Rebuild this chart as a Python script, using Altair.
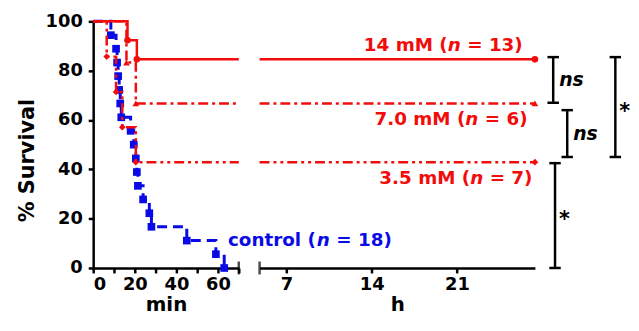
import altair as alt
import pandas as pd

# ---------------- data ----------------
# Kaplan-Meier step points: time (min) and % survival
ctrl_t = [0, 8.5, 11, 11.5, 12, 12.5, 13, 13.5, 18, 19.5, 20.5, 21, 21.5, 24, 27, 28, 45, 59, 63]
ctrl_s = [100, 94.4, 88.9, 83.3, 77.8, 72.2, 66.7, 61.1, 55.6, 50.0, 44.4, 38.9, 33.3, 27.8, 22.2, 16.7, 11.1, 5.6, 0]
mm14_t = [0, 16.5, 21]
mm14_s = [100, 92.3, 84.6]
mm70_t = [0, 16, 20.5]
mm70_s = [100, 83.3, 66.7]
mm35_t = [0, 6.5, 11, 14, 20.5]
mm35_s = [100, 85.7, 71.4, 57.1, 42.9]

min_domain = [0, 70]          # left segment, minutes
h_domain = [4.8, 27.4]        # right segment, hours
min_ticks = [0, 10, 20, 30, 40, 50, 60, 70]
h_ticks = [7, 14, 21]
y_ticks = [0, 20, 40, 60, 80, 100]

# group labels (right panel, hours / % survival)
lab_prefix = ["14 mM (", "7.0 mM (", "3.5 mM ("]
lab_suffix = ["= 13)", "= 6)", "= 7)"]
lab_x = [26.4, 26.8, 27.2]
lab_y = [90.4, 60.2, 36.5]
ctrl_prefix = "control ("
ctrl_suffix = "= 18)"
ctrl_lab_x = 64.8
ctrl_lab_y = 11.2

# significance brackets (hours, % survival)
br_x = [28.9, 30.05, 34.0, 29.05]
br_top = [85.5, 64.0, 85.5, 42.5]
br_bot = [67.0, 45.0, 45.0, 0.0]
br_text = ["ns", "ns", "*", "*"]
cap_half = 0.47

RED = "#f20c0c"
BLUE = "#0a0ae6"
FONT = "DejaVu Sans"
LFS = 18.5

# DejaVu Sans Bold advance widths (per 1000 em) for text offsets
W = {" ": 348, "(": 457, ")": 457, "=": 838, "n": 712, "m": 1042, "M": 995,
     "c": 593, "o": 687, "t": 478, "r": 493, "l": 343, ".": 380}
for d in "0123456789":
    W[d] = 696


def tw(s, fs=LFS):
    return sum(W.get(c, 600) for c in s) * fs / 1000.0


SP = tw(" ")

# ---------------- encodings ----------------
x_min = alt.X("t:Q", scale=alt.Scale(domain=min_domain, nice=False, zero=False),
              axis=alt.Axis(values=min_ticks, title="min",
                            labelExpr="datum.value % 20 == 0 && datum.value < 70 ? datum.label : ''"))
x_h = alt.X("t:Q", scale=alt.Scale(domain=h_domain, nice=False, zero=False),
            axis=alt.Axis(values=h_ticks, title="h"))
y_left = alt.Y("s:Q", scale=alt.Scale(domain=[0, 100], nice=False),
               axis=alt.Axis(values=y_ticks, title="% Survival", titlePadding=8, titleY=140,
                             titleFontSize=21, labelPadding=6))
y_right = alt.Y("s:Q", scale=alt.Scale(domain=[0, 100], nice=False), axis=None)


def curve_left(ts, ss, extend):
    tt = list(ts) + ([min_domain[1]] if extend else [])
    sv = list(ss) + ([ss[-1]] if extend else [])
    return pd.DataFrame({"t": tt, "s": sv})


def pts(ts, ss):
    return pd.DataFrame({"t": ts[1:], "s": ss[1:]})


DASH70 = [10, 4, 3, 4]
DASH35 = [10, 4, 3, 4, 3, 4]

left_layers = []
# control
left_layers.append(alt.Chart(curve_left(ctrl_t, ctrl_s, False)).mark_line(
    interpolate="step-after", color=BLUE, strokeWidth=3, strokeDash=[10, 6]).encode(x=x_min, y=y_left))
left_layers.append(alt.Chart(pts(ctrl_t, ctrl_s)).mark_point(
    shape="square", filled=True, opacity=1, color=BLUE, size=60).encode(x=x_min, y=y_left))
# 3.5 mM
left_layers.append(alt.Chart(curve_left(mm35_t, mm35_s, True)).mark_line(
    interpolate="step-after", color=RED, strokeWidth=2.5, strokeDash=DASH35).encode(x=x_min, y=y_left))
left_layers.append(alt.Chart(pts(mm35_t, mm35_s)).mark_point(
    shape="diamond", filled=True, opacity=1, color=RED, size=45).encode(x=x_min, y=y_left))
# 7.0 mM
left_layers.append(alt.Chart(curve_left(mm70_t, mm70_s, True)).mark_line(
    interpolate="step-after", color=RED, strokeWidth=2.5, strokeDash=DASH70).encode(x=x_min, y=y_left))
left_layers.append(alt.Chart(pts(mm70_t, mm70_s)).mark_point(
    shape="triangle-up", filled=True, opacity=1, color=RED, size=45).encode(x=x_min, y=y_left))
# 14 mM
left_layers.append(alt.Chart(curve_left(mm14_t, mm14_s, True)).mark_line(
    interpolate="step-after", color=RED, strokeWidth=2.5).encode(x=x_min, y=y_left))
left_layers.append(alt.Chart(pts(mm14_t, mm14_s)).mark_point(
    shape="circle", filled=True, opacity=1, color=RED, size=45).encode(x=x_min, y=y_left))
# axis break mark
left_layers.append(alt.Chart(pd.DataFrame({"t": [min_domain[1]], "s": [0]})).mark_tick(
    orient="vertical", size=13, thickness=2.5, color="black").encode(x=x_min, y=y_left))
# control label (n italic)
cdf = pd.DataFrame({"t": [ctrl_lab_x], "s": [ctrl_lab_y]})
txt_common = dict(font=FONT, fontSize=LFS, fontWeight="bold", baseline="middle", align="left")
left_layers.append(alt.Chart(cdf).mark_text(text=ctrl_prefix, color=BLUE, **txt_common).encode(x=x_min, y=y_left))
left_layers.append(alt.Chart(cdf).mark_text(text="n", color=BLUE, fontStyle="italic", dx=tw(ctrl_prefix) + 1,
                                            **txt_common).encode(x=x_min, y=y_left))
left_layers.append(alt.Chart(cdf).mark_text(text=ctrl_suffix, color=BLUE,
                                            dx=tw(ctrl_prefix) + tw("n") + SP + 1,
                                            **txt_common).encode(x=x_min, y=y_left))

left = alt.layer(*left_layers).properties(width=147, height=249)

# ---------------- right panel ----------------
right_layers = []
shapes = ["circle", "triangle-up", "diamond"]
dashes = [None, DASH70, DASH35]
finals = [mm14_s[-1], mm70_s[-1], mm35_s[-1]]
for v, shp, dsh in zip(finals, shapes, dashes):
    d = pd.DataFrame({"t": h_domain, "s": [v, v]})
    kw = dict(color=RED, strokeWidth=2.5)
    if dsh:
        kw["strokeDash"] = dsh
    right_layers.append(alt.Chart(d).mark_line(**kw).encode(x=x_h, y=y_right))
    right_layers.append(alt.Chart(pd.DataFrame({"t": [h_domain[1]], "s": [v]})).mark_point(
        shape=shp, filled=True, opacity=1, color=RED, size=45).encode(x=x_h, y=y_right))

right_layers.append(alt.Chart(pd.DataFrame({"t": [h_domain[0]], "s": [0]})).mark_tick(
    orient="vertical", size=13, thickness=2.5, color="black").encode(x=x_h, y=y_right))

txt_r = dict(font=FONT, fontSize=LFS, fontWeight="bold", baseline="middle", align="right", color=RED)
for px, sx, lx, ly in zip(lab_prefix, lab_suffix, lab_x, lab_y):
    d = pd.DataFrame({"t": [lx], "s": [ly]})
    right_layers.append(alt.Chart(d).mark_text(text=sx, **txt_r).encode(x=x_h, y=y_right))
    right_layers.append(alt.Chart(d).mark_text(text="n", fontStyle="italic", dx=-(tw(sx) + SP), **txt_r)
                        .encode(x=x_h, y=y_right))
    right_layers.append(alt.Chart(d).mark_text(text=px, dx=-(tw(sx) + SP + tw("n")), **txt_r)
                        .encode(x=x_h, y=y_right))

# brackets
vert = pd.DataFrame({"t": br_x, "s": br_top, "s2": br_bot})
caps = pd.DataFrame({
    "t": [x - cap_half for x in br_x] * 2,
    "t2": [x + cap_half for x in br_x] * 2,
    "s": br_top + br_bot,
})
right_layers.append(alt.Chart(vert).mark_rule(color="black", strokeWidth=2.5).encode(
    x=x_h, y=y_right, y2="s2:Q"))
right_layers.append(alt.Chart(caps).mark_rule(color="black", strokeWidth=2.5).encode(
    x=x_h, x2="t2:Q", y=y_right))
lab = pd.DataFrame({"t": br_x, "s": [(a + b) / 2 for a, b in zip(br_top, br_bot)], "txt": br_text})
right_layers.append(alt.Chart(lab[lab.txt == "ns"]).mark_text(
    font=FONT, fontSize=19, fontWeight="bold", fontStyle="italic", align="left", baseline="middle",
    dx=6, color="black").encode(x=x_h, y=y_right, text="txt:N"))
right_layers.append(alt.Chart(lab[lab.txt == "*"]).mark_text(
    font=FONT, fontSize=21, fontWeight="bold", align="left", baseline="middle",
    dx=4, dy=5, color="black").encode(x=x_h, y=y_right, text="txt:N"))

right = alt.layer(*right_layers).properties(width=278, height=249)

chart = alt.hconcat(left, right, spacing=21, bounds="flush").properties(
    padding={"left": 8, "top": 3, "right": 0, "bottom": 0}
).configure_view(stroke=None).configure_axis(
    domainColor="black", domainWidth=2.5, tickColor="black", tickWidth=2.5, tickSize=5,
    labelFont=FONT, labelFontWeight="bold", labelFontSize=18, labelColor="black", labelPadding=3,
    titleFont=FONT, titleFontWeight="bold", titleFontSize=20, titleColor="black", grid=False,
    titlePadding=1
)

chart.save("out.html", embed_options={"renderer": "svg", "actions": False})
